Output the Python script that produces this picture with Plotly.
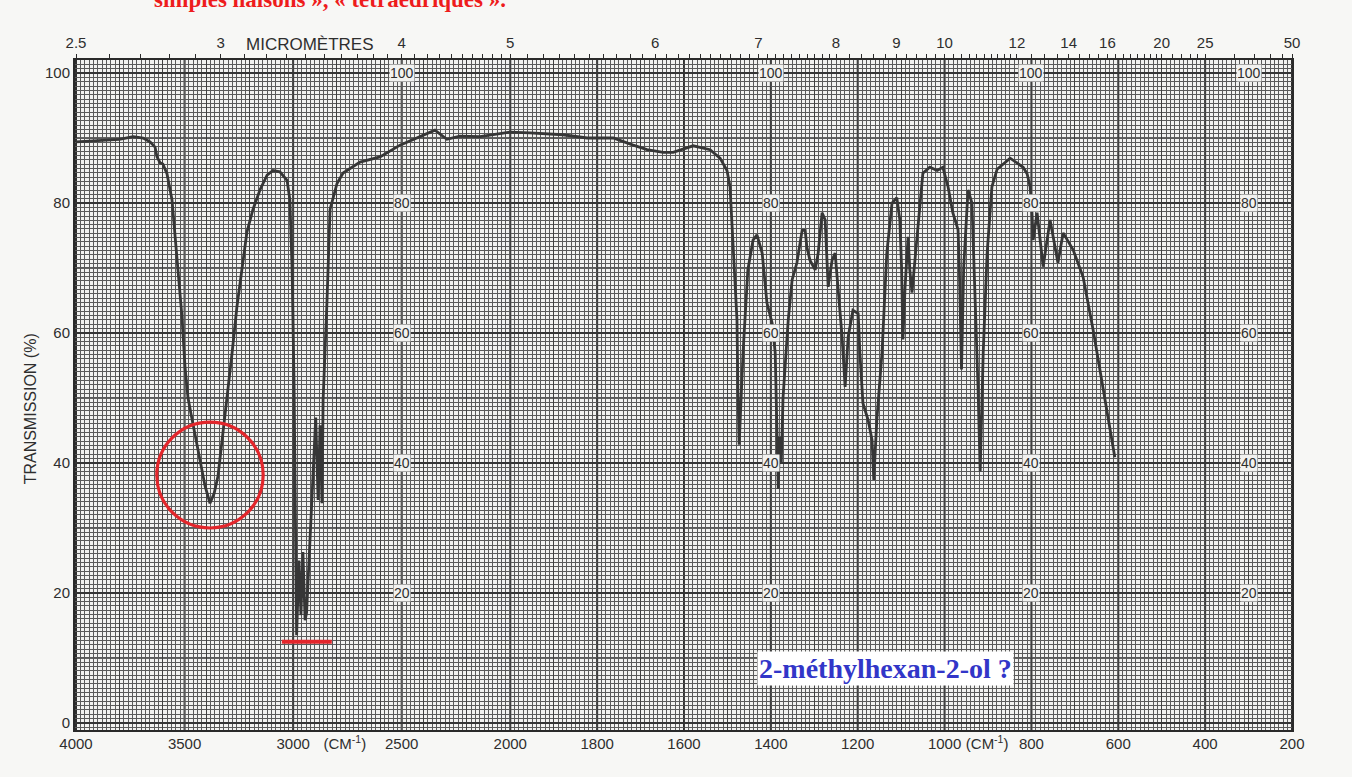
import plotly.graph_objects as go

# ---------------- data ----------------
wavenumber = [4000, 3890, 3800, 3737, 3691, 3659, 3636, 3627, 3613, 3600, 3581, 3558, 3544, 3530,
              3512, 3498, 3484, 3470, 3452, 3429, 3406, 3383, 3364, 3346, 3323, 3300, 3281, 3259,
              3236, 3213, 3185, 3153, 3120, 3093, 3061, 3028, 3015, 3005, 2996, 2984, 2973, 2964,
              2955, 2945, 2938, 2896, 2885, 2876, 2867, 2862, 2844, 2830, 2798, 2770, 2692, 2600,
              2508, 2384, 2347, 2292, 2232, 2140, 2002, 1955, 1879, 1823, 1763, 1717, 1685, 1648,
              1625, 1579, 1540, 1517, 1501, 1494, 1490, 1478, 1476, 1473, 1464, 1453, 1441, 1432,
              1420, 1409, 1397, 1390, 1386, 1383, 1380, 1376, 1372, 1360, 1351, 1340, 1328, 1321,
              1317, 1310, 1298, 1291, 1282, 1275, 1268, 1259, 1252, 1245, 1236, 1229, 1222, 1211,
              1199, 1195, 1188, 1176, 1167, 1163, 1156, 1144, 1133, 1121, 1110, 1103, 1099, 1096,
              1091, 1084, 1080, 1075, 1068, 1057, 1050, 1034, 1017, 1004, 992, 981, 969, 966, 961,
              956, 946, 937, 930, 923, 918, 911, 902, 891, 879, 849, 819, 810, 803, 799, 796, 787,
              773, 757, 739, 727, 704, 681, 658, 635, 608]
transmission = [89.4, 89.6, 89.8, 90.2, 90.0, 89.4, 88.6, 87.1, 86.2, 86.0, 84.5, 80.5, 75.4, 70.2,
                62.5, 54.8, 50.0, 47.5, 44.5, 40.5, 36.5, 33.8, 35.3, 38.0, 44.5, 51.5, 57.0, 64.0,
                70.2, 75.5, 79.0, 82.0, 84.3, 85.0, 84.8, 83.5, 80.5, 70.0, 52.8, 13.5, 25.0, 16.6,
                26.3, 15.8, 17.0, 47.0, 34.3, 45.8, 33.8, 49.7, 65.0, 79.0, 83.0, 84.6, 86.3, 87.1,
                88.9, 90.6, 91.2, 89.8, 90.3, 90.2, 90.9, 90.8, 90.5, 90.0, 90.0, 88.9, 88.2, 87.8,
                87.8, 88.8, 88.2, 86.9, 85.0, 82.5, 77.4, 62.0, 51.7, 42.8, 57.0, 69.7, 74.3, 75.1,
                72.3, 64.6, 61.5, 57.0, 45.0, 36.0, 44.0, 40.0, 50.0, 62.0, 68.2, 70.8, 75.8, 75.8,
                73.2, 71.2, 69.7, 72.3, 78.5, 77.4, 67.1, 71.2, 72.3, 66.2, 59.4, 51.7, 59.4, 63.5,
                63.0, 57.0, 49.2, 46.6, 43.5, 37.4, 46.6, 57.0, 72.3, 80.0, 80.8, 77.4, 70.0, 59.0,
                67.0, 74.8, 69.7, 66.2, 71.2, 80.0, 84.6, 85.5, 85.0, 85.5, 82.5, 78.5, 75.9, 70.0, 54.4,
                70.0, 82.0, 80.0, 67.0, 51.7, 38.7, 57.0, 72.3, 82.5, 85.2, 86.9, 85.5, 84.5, 82.5, 78.9,
                74.3, 78.5, 70.2, 77.4, 70.8, 75.4, 72.8, 68.6, 60.5, 51.7, 40.9]

bottom_labels = ["4000", "3500", "3000", "(CM<sup>-1</sup>)", "2500", "2000", "1800", "1600",
                 "1400", "1200", "1000", "(CM<sup>-1</sup>)", "800", "600", "400", "200"]
bottom_label_wn = [4000, 3500, 3000, 2762, 2500, 2000, 1800, 1600, 1400, 1200, 1000, 902,
                   800, 600, 400, 200]

micron_labels = ["2.5", "3", "4", "5", "6", "7", "8", "9", "10", "12", "14", "16", "20", "25", "50"]
micron_ticks = ([round(2.5 + 0.1 * i, 2) for i in range(56)] +
                [round(8.2 + 0.2 * i, 2) for i in range(20)] +
                [round(12.5 + 0.5 * i, 2) for i in range(16)] +
                [21, 22, 23, 24, 25, 30, 35, 40, 45, 50])

inner_label_wn = [2500, 1400, 800, 300]
inner_label_vals = [20, 40, 60, 80, 100]
heavy_wn = [4000, 3500, 3000, 2500, 2000, 1800, 1600, 1400, 1200, 1000, 800, 600, 400, 200]
heavy_t = [10, 30, 50, 70, 90]


# chart paper abscissa: 4000-2000 cm-1 at half the scale of 2000-200 cm-1
def to_u(w):
    return (4000 - w) / 2 if w >= 2000 else 1000 + (2000 - w)


u = [to_u(w) for w in wavenumber]
XR = [-2.3, 2800]
YR = [-1.08, 102.0]

INK = "#2e2e2e"
GRID = "#5a5a5a"
FONT = "Liberation Sans"

fig = go.Figure()
fig.add_trace(go.Scatter(x=u, y=transmission, mode="lines",
                         line=dict(color="#363636", width=2.8),
                         hoverinfo="skip", showlegend=False))
fig.add_trace(go.Scatter(x=u, y=transmission, xaxis="x2", mode="lines", opacity=0,
                         hoverinfo="skip", showlegend=False))
fig.add_trace(go.Scatter(x=u, y=transmission, xaxis="x3", mode="lines", opacity=0,
                         hoverinfo="skip", showlegend=False))

shapes = []
for w in heavy_wn:
    shapes.append(dict(type="line", xref="x", yref="paper", x0=to_u(w), x1=to_u(w), y0=0, y1=1,
                       line=dict(color="#2e2e2e", width=2), layer="between"))
for t in heavy_t:
    shapes.append(dict(type="line", xref="paper", yref="y", x0=0, x1=1, y0=t, y1=t,
                       line=dict(color="#353535", width=1.6), layer="between"))
# red circle around the O-H band and red bar under the C-H band
shapes.append(dict(type="circle", xref="x", yref="y", x0=186, x1=431, y0=30.0, y1=46.3,
                   line=dict(color="#e3262b", width=3.2), layer="above"))
shapes.append(dict(type="line", xref="x", yref="y", x0=474, x1=589, y0=12.5, y1=12.5,
                   line=dict(color="#e3262b", width=4), layer="above"))

annotations = []
for wc in inner_label_wn:
    for v in inner_label_vals:
        annotations.append(dict(x=to_u(wc), y=v, xref="x", yref="y", text=str(v),
                                xanchor="center", yanchor="middle",
                                showarrow=False, font=dict(family=FONT, size=14, color=INK),
                                bgcolor="#f2f2f0", borderpad=0))
annotations += [
    dict(x=0.193, y=1.0224, xref="paper", yref="paper", xanchor="center", yanchor="middle",
         text="MICROMÈTRES", showarrow=False, font=dict(family=FONT, size=17, color=INK)),
    dict(x=-0.037, y=0.48, xref="paper", yref="paper", xanchor="center", yanchor="middle",
         text="TRANSMISSION (%)", textangle=-90,
         showarrow=False, font=dict(family=FONT, size=16, color=INK)),
    dict(x=0.6656, y=0.0925, xref="paper", yref="paper", xanchor="center", yanchor="middle",
         text="<b>2-méthylhexan-2-ol ?</b>",
         showarrow=False, font=dict(family="Liberation Serif", size=28, color="#3236c8"),
         bgcolor="#ffffff", borderpad=1),
    dict(x=0.0633, y=1.0896, xref="paper", yref="paper", xanchor="left", yanchor="middle",
         text="<b>simples liaisons », « tétraédriques ».</b>", showarrow=False,
         font=dict(family="Liberation Serif", size=23, color="#ee1c1c")),
]

fig.update_layout(
    width=1352, height=777,
    margin=dict(l=75, r=60, t=60, b=47),
    paper_bgcolor="#f7f7f5", plot_bgcolor="#f2f2f0",
    showlegend=False,
    xaxis=dict(range=XR, tickmode="linear", tick0=0, dtick=100, showticklabels=False, ticks="",
               showgrid=True, gridcolor="#404040", gridwidth=1.3, zeroline=False,
               minor=dict(tickmode="linear", tick0=0, dtick=10, showgrid=True,
                          gridcolor=GRID, gridwidth=1),
               showline=True, linecolor="#2a2a2a", linewidth=2, mirror=True, automargin=False),
    xaxis2=dict(range=XR, overlaying="x", side="bottom", anchor="y", tickmode="array",
                tickvals=[to_u(w) for w in bottom_label_wn], ticktext=bottom_labels,
                tickangle=0, showgrid=False, zeroline=False, ticks="", showline=False,
                ticklabelstandoff=3,
                tickfont=dict(family=FONT, size=15, color=INK), automargin=False),
    xaxis3=dict(range=XR, overlaying="x", side="top", anchor="y", tickmode="array",
                tickvals=[to_u(10000 / m) for m in micron_ticks],
                ticktext=[(f"{m:g}" if f"{m:g}" in micron_labels else "") for m in micron_ticks],
                tickangle=0, showgrid=False, zeroline=False, ticks="outside", ticklen=5,
                tickwidth=1.2, tickcolor="#2a2a2a", showline=False,
                tickfont=dict(family=FONT, size=15, color=INK), automargin=False),
    yaxis=dict(range=YR, tickmode="linear", tick0=0, dtick=20, ticks="",
               showgrid=True, gridcolor="#353535", gridwidth=1.6, zeroline=False,
               minor=dict(tickmode="linear", tick0=0, dtick=2 / 3, showgrid=True,
                          gridcolor=GRID, gridwidth=1),
               tickfont=dict(family=FONT, size=15, color=INK),
               showline=True, linecolor="#2a2a2a", linewidth=2, mirror=True, automargin=False),
    shapes=shapes,
    annotations=annotations,
)

fig.write_html("out.html", config={"displayModeBar": False},
               post_script="document.body.style.margin='0';")
